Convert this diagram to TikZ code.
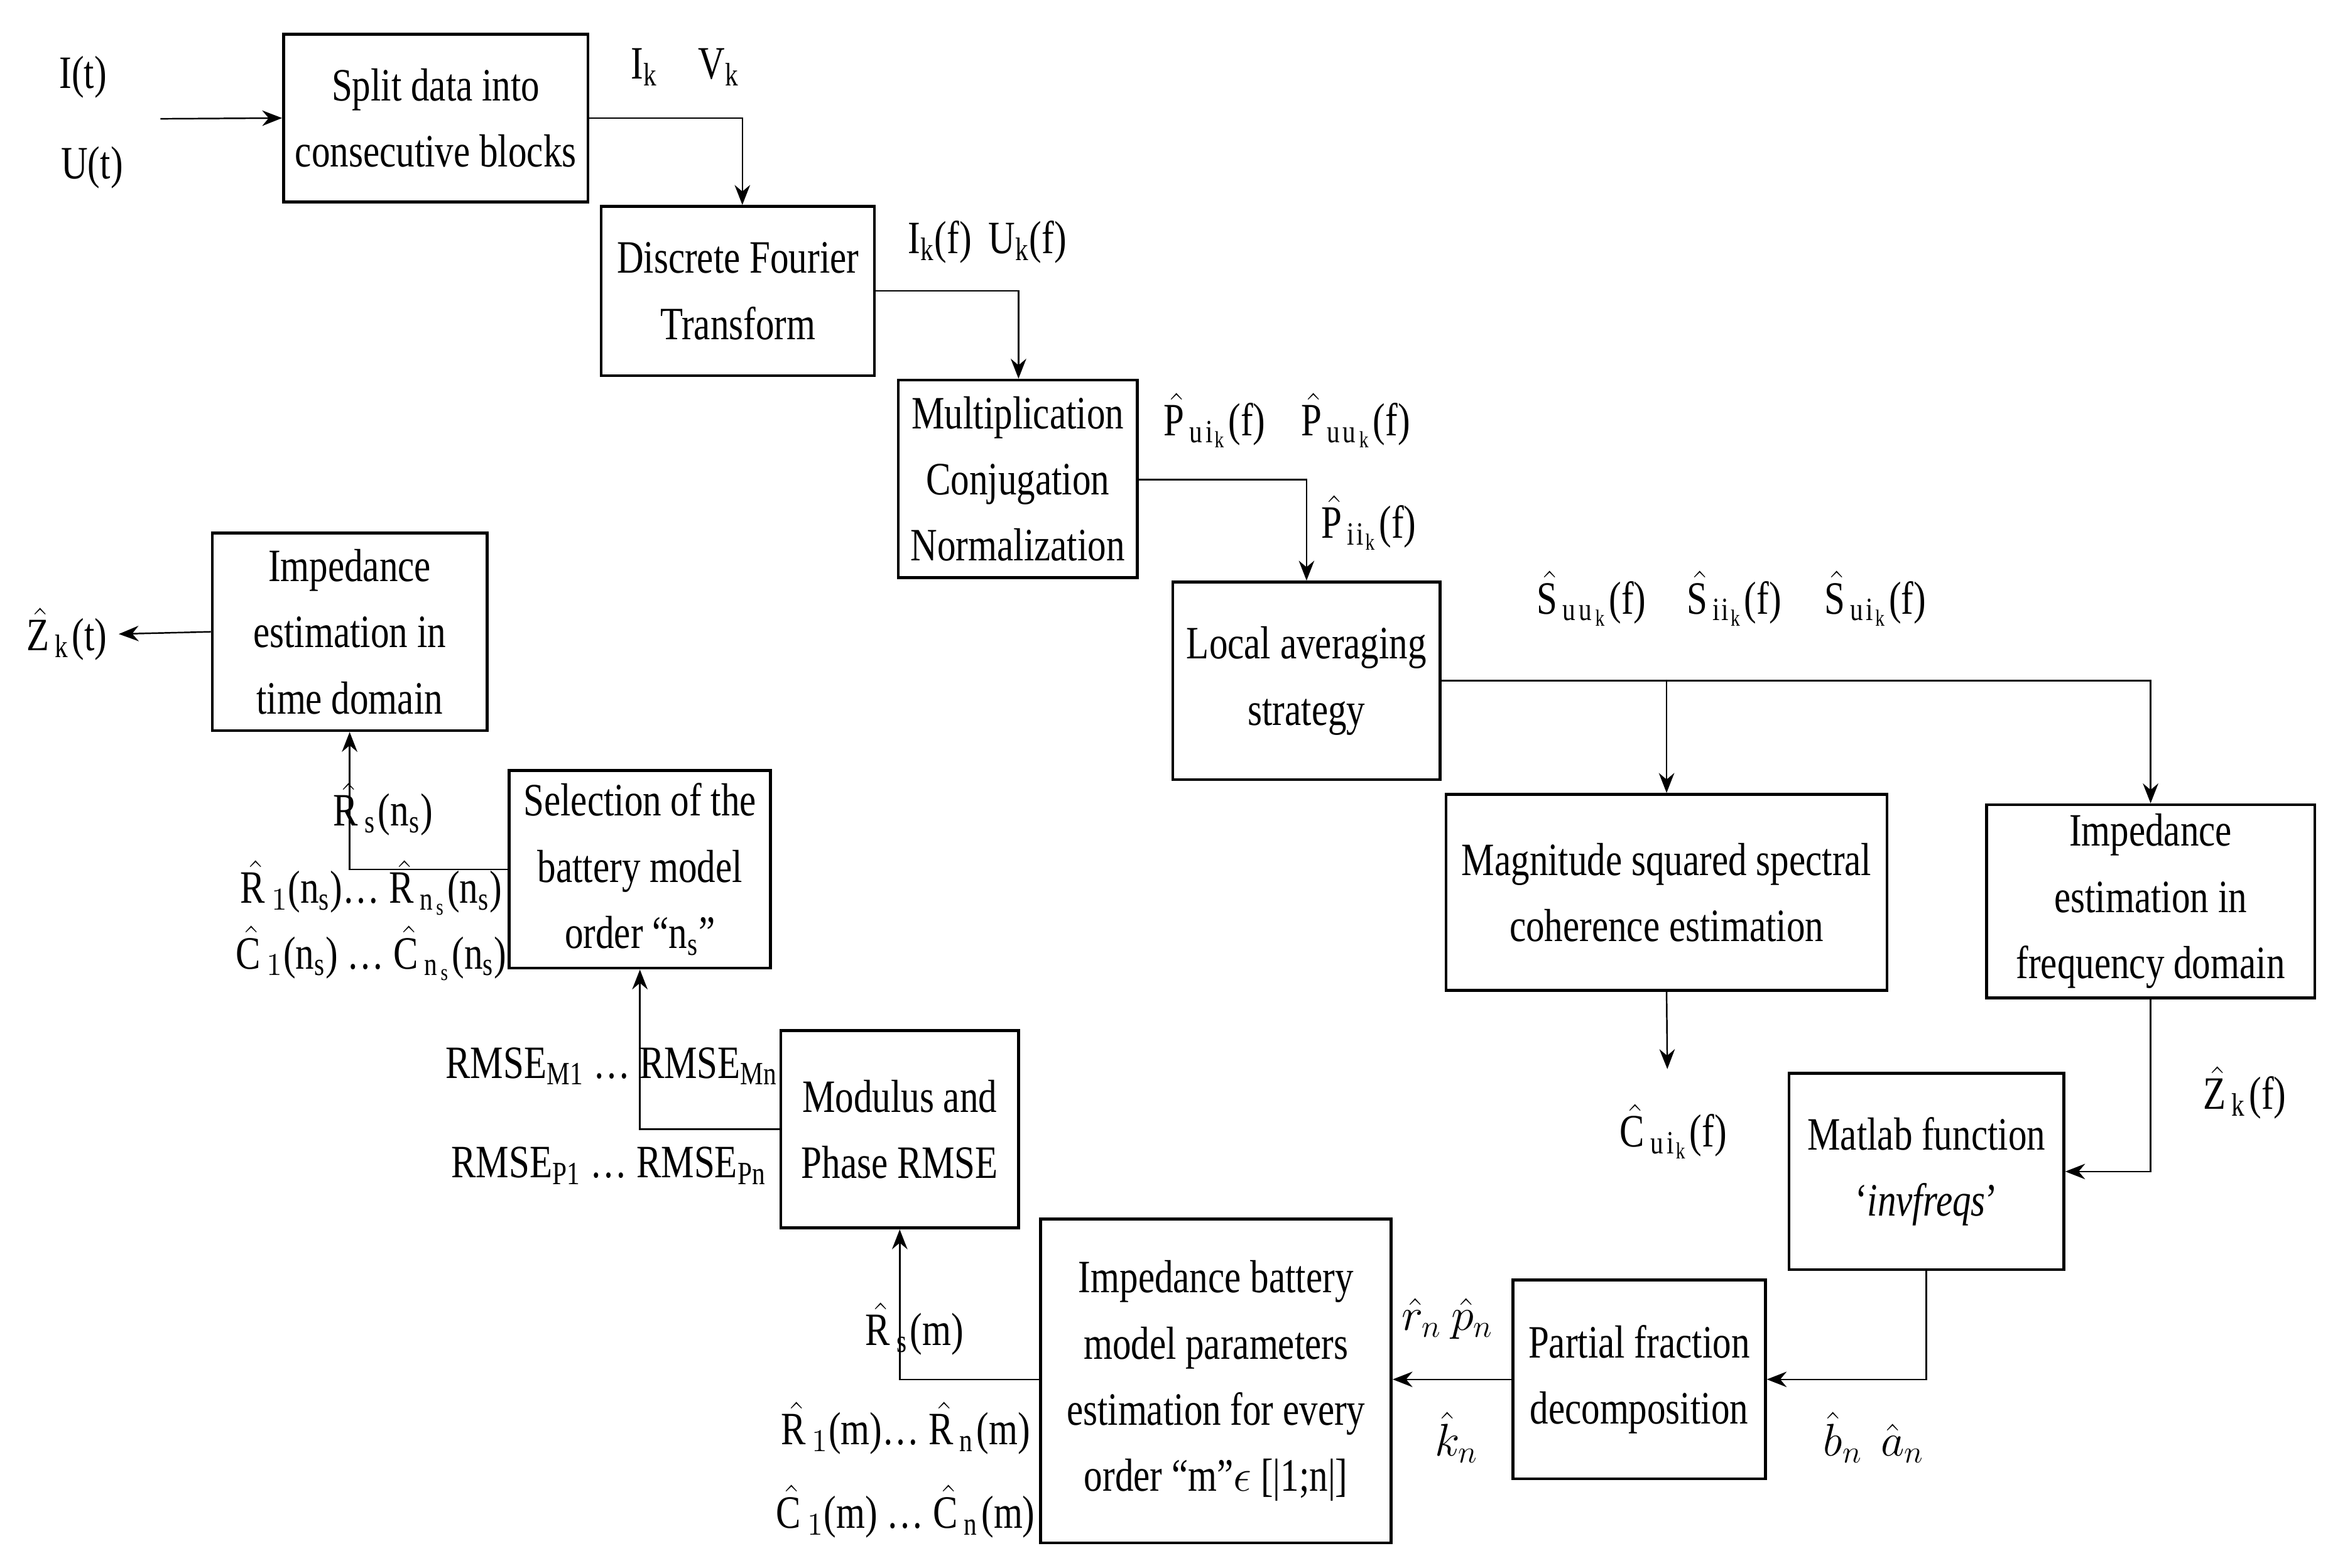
\documentclass[tikz,border=0pt]{standalone}
\usepackage{fontspec}
\setmainfont{Liberation Serif}[FakeStretch=0.8]
\usetikzlibrary{arrows.meta}
\begin{document}
\begin{tikzpicture}[x=0.02364cm,y=-0.02364cm,
 box/.style={draw,line width=1.3pt,align=center,font=\fontsize{21}{30}\selectfont,inner sep=0pt},
 lab/.style={font=\fontsize{21}{26}\selectfont,inner sep=0pt},
 arr/.style={line width=0.7pt,-{Stealth[length=9pt,width=7pt]}}]
\useasboundingbox (0,0) rectangle (1568,1056);
\newcommand{\bx}[6]{\node[box,minimum width=#4*0.02364cm-1.3pt,minimum height=#5*0.02364cm-1.3pt] (#1) at (#2,#3) {#6};}
\bx{split}{293.5}{79.5}{207}{115}{Split data into\\consecutive blocks}
\bx{dft}{497}{196}{186}{116}{Discrete Fourier\\Transform}
\bx{mult}{685.5}{322.5}{163}{135}{Multiplication\\Conjugation\\Normalization}
\bx{loc}{880}{458.5}{182}{135}{Local averaging\\strategy}
\bx{msc}{1122.5}{601}{299}{134}{Magnitude squared spectral\\coherence estimation}
\bx{ifr}{1448.5}{607}{223}{132}{Impedance\\estimation in\\frequency domain}
\bx{mat}{1297.5}{789}{187}{134}{Matlab function\\`\textit{invfreqs}'}
\bx{pfd}{1104}{929}{172}{136}{Partial fraction\\decomposition}
\bx{ibm}{819}{930}{238}{220}{Impedance battery\\model parameters\\estimation for every\\order ``m''$\epsilon$ [|1;n|]}
\bx{mod}{606}{760.5}{162}{135}{Modulus and\\Phase RMSE}
\bx{sel}{431}{585.5}{178}{135}{Selection of the\\battery model\\order ``n\textsubscript{s}''}
\bx{itd}{235.5}{425.5}{187}{135}{Impedance\\estimation in\\time domain}

\coordinate (in) at (108,80);
\coordinate (mscout) at (1123,720);
\coordinate (zout) at (80,427);
\draw[arr] (in) -- (split.west);
\draw[arr] (split.east) -| (dft.north -| 500,0);
\draw[arr] (dft.east) -| (mult.north -| 686,0);
\draw[arr] (mult.east |- 0,323) -| (loc.north);
\draw[arr] (loc.east) -| (ifr.north);
\draw[arr] (loc.east -| msc.north) -- (msc.north);
\draw[arr] (msc.south) -- (mscout);
\draw[arr] (ifr.south) |- (mat.east);
\draw[arr] (mat.south) |- (pfd.east);
\draw[arr] (pfd.west) -- (ibm.east |- pfd.west);
\draw[arr] (ibm.west |- pfd.west) -| (mod.south);
\draw[arr] (mod.west) -| (sel.south);
\draw[arr] (sel.west) -| (itd.south);
\draw[arr] (itd.west) -- (zout);

\node[lab] (l1) at (56,52) {I(t)};
\node[lab] (l2) at (62,113) {U(t)};
\node[lab] (l3) at (434,45) {I\textsubscript{k}};
\node[lab] (l4) at (484,45) {V\textsubscript{k}};
\node[lab] (l5) at (665,163) {I\textsubscript{k}(f)\, U\textsubscript{k}(f)};
\node[lab] (l6) at (818,283) {$\hat{\mathrm{P}}_{\mathrm{ui}_\mathrm{k}}$(f)};
\node[lab] (l7) at (913,283) {$\hat{\mathrm{P}}_{\mathrm{uu}_\mathrm{k}}$(f)};
\node[lab] (l8) at (922,352) {$\hat{\mathrm{P}}_{\mathrm{ii}_\mathrm{k}}$(f)};
\node[lab] (l9) at (1072,403) {$\hat{\mathrm{S}}_{\mathrm{uu}_\mathrm{k}}$(f)};
\node[lab] (l10) at (1168,403) {$\hat{\mathrm{S}}_{\mathrm{ii}_\mathrm{k}}$(f)};
\node[lab] (l11) at (1263,403) {$\hat{\mathrm{S}}_{\mathrm{ui}_\mathrm{k}}$(f)};
\node[lab] (l12) at (1127,762) {$\hat{\mathrm{C}}_{\mathrm{ui}_\mathrm{k}}$(f)};
\node[lab] (l13) at (1512,736) {$\hat{\mathrm{Z}}_{\mathrm{k}}$(f)};
\node[lab] (l14) at (1262,968) {$\hat{b}_n\ \ \hat{a}_n$};
\node[lab] (l15) at (975,888) {$\hat{r}_n\ \hat{p}_n$};
\node[lab] (l16) at (981,968) {$\hat{k}_n$};
\node[lab] (l17) at (616,895) {$\hat{\mathrm{R}}_{\mathrm{s}}$(m)};
\node[lab] (l18) at (610,962) {$\hat{\mathrm{R}}_1$(m)\dots\ $\hat{\mathrm{R}}_\mathrm{n}$(m)};
\node[lab] (l19) at (610,1018) {$\hat{\mathrm{C}}_1$(m) \dots\ $\hat{\mathrm{C}}_\mathrm{n}$(m)};
\node[lab] (l20) at (412,718) {RMSE\textsubscript{M1} \dots\ RMSE\textsubscript{Mn}};
\node[lab] (l21) at (410,785) {RMSE\textsubscript{P1} \dots\ RMSE\textsubscript{Pn}};
\node[lab] (l22) at (258,545) {$\hat{\mathrm{R}}_{\mathrm{s}}$(n\textsubscript{s})};
\node[lab] (l23) at (250,598) {$\hat{\mathrm{R}}_1$(n\textsubscript{s})\dots\ $\hat{\mathrm{R}}_{\mathrm{n_s}}$(n\textsubscript{s})};
\node[lab] (l24) at (250,642) {$\hat{\mathrm{C}}_1$(n\textsubscript{s}) \dots\ $\hat{\mathrm{C}}_{\mathrm{n_s}}$(n\textsubscript{s})};
\node[lab] (l25) at (45,427) {$\hat{\mathrm{Z}}_{\mathrm{k}}$(t)};
\end{tikzpicture}
\end{document}
